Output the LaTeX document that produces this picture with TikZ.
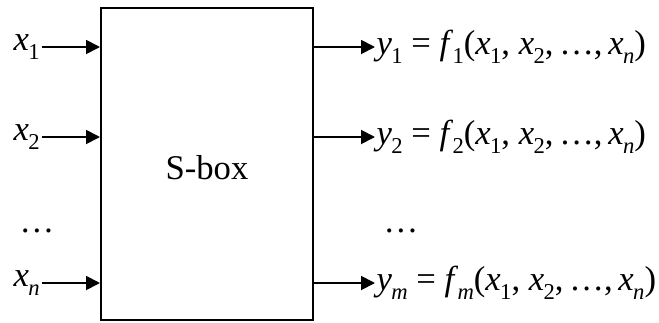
\documentclass[tikz,border=0pt]{standalone}
\usepackage{fontspec}
\setmainfont{Liberation Serif}
\usetikzlibrary{arrows.meta}
\newcommand\conindice[2]{\textit{#1}\kern-0.5pt\raisebox{-6.5pt}{\fontsize{17}{19}\selectfont #2}}

\begin{document}
\begin{tikzpicture}[x=0.75pt,y=-0.75pt,
        font=\fontsize{26}{30}\selectfont,
        flecha/.style={-{Triangle[length=10.5pt,width=10.5pt]}, line width=1.4pt},
        caja/.style={draw, line width=1.5pt, minimum width=159pt, minimum height=234pt}]
        \useasboundingbox (0,0) rectangle (659,322);
        \node[caja] (sbox) at (207,164) {};
        \node (nombre) at (207,168) {S-box};
        \foreach \k/\yy/\s in {1/47/1,2/137/2,n/283/\textit{n}} {
            \node[anchor=east, inner sep=0pt] (x\k) at (40,\yy) {\conindice{x}{\s}};
            \draw[flecha] ([xshift=1.5pt]x\k.east) -- (sbox.west |- x\k.east);
        }
        \foreach \k/\yy/\s in {1/47/1,2/137/2,m/283/\textit{m}} {
            \node[anchor=west, inner sep=1pt] (y\k) at (375,\yy)
                {\conindice{y}{\s} = \conindice{f}{\s}(\conindice{x}{1},\ \conindice{x}{2},\,\ldots,\,\conindice{x}{\textit{n}})};
            \draw[flecha] (sbox.east |- y\k.west) -- (y\k.west);
        }
        \node[anchor=base] (puntosx) at (37,232) {\ldots};
        \node[anchor=base] (puntosy) at (401,232) {\ldots};
    \end{tikzpicture}
\end{document}
